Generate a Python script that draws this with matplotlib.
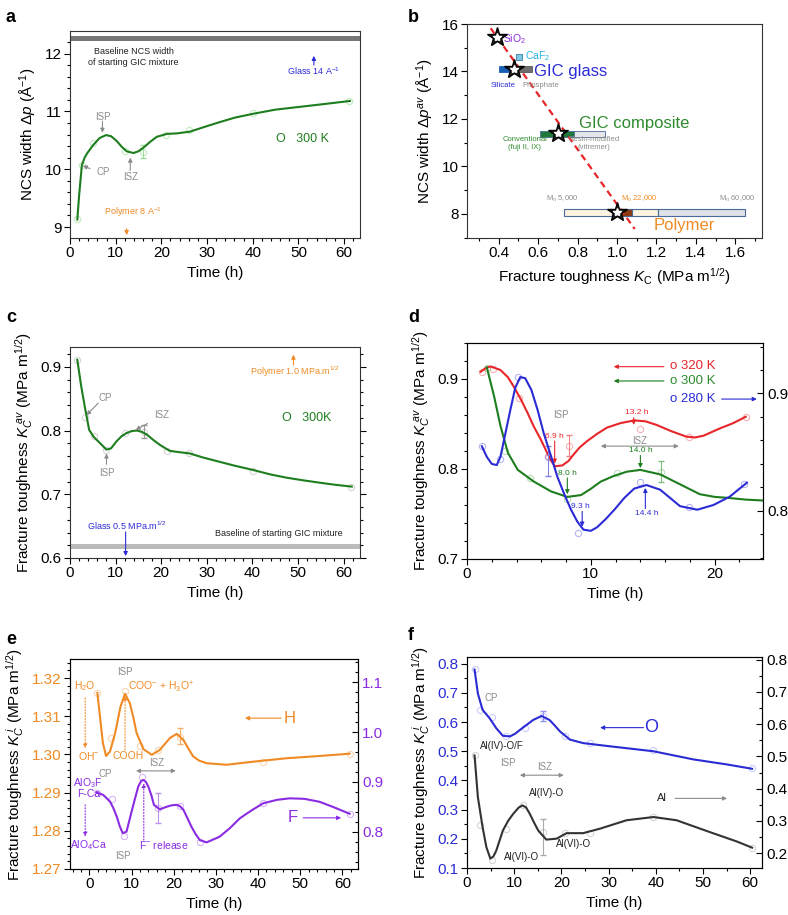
import matplotlib
matplotlib.use("Agg")
import matplotlib.pyplot as plt
from matplotlib.patches import Rectangle
from matplotlib.ticker import MultipleLocator

plt.rcParams['font.family'] = ['Liberation Sans', 'DejaVu Sans']
plt.rcParams['mathtext.fontset'] = 'custom'
plt.rcParams['mathtext.rm'] = 'Liberation Sans'
plt.rcParams['mathtext.it'] = 'Liberation Sans:italic'
plt.rcParams['mathtext.bf'] = 'Liberation Sans:bold'

# ---------------- data ----------------
# a: NCS width vs time
a_t = [1.5, 2.7, 5.0, 12.0, 16.0, 21.0, 26.0, 40.0, 61.0]
a_y = [9.13, 10.07, 10.45, 10.32, 10.30, 10.60, 10.67, 10.97, 11.18]
a_curve_t = [1.6, 2.0, 2.6, 3.2, 3.8, 5.1, 6.5, 7.9, 9.0, 10.2, 11.3, 12.4, 13.9, 15.0, 16.2, 17.5, 19.0, 21.2, 23.5, 26.3, 29.0, 32.2, 36.0, 40.2, 45.0, 50.5, 56.0, 61.3]
a_curve_y = [9.13, 9.55, 10.07, 10.20, 10.28, 10.42, 10.54, 10.59, 10.57, 10.49, 10.39, 10.31, 10.28, 10.31, 10.38, 10.47, 10.56, 10.61, 10.62, 10.65, 10.72, 10.80, 10.89, 10.96, 11.03, 11.08, 11.13, 11.18]

# b: NCS width vs fracture toughness
b_star_k = [0.39, 0.48, 0.70, 1.00]
b_star_p = [15.45, 14.10, 11.42, 8.07]
b_fit_k = [0.36, 1.09]
b_fit_p = [15.82, 7.36]

# c: average fracture toughness, 300 K
c_t = [1.5, 3.3, 5.3, 8.0, 12.1, 16.2, 21.2, 26.2, 40.2, 61.6]
c_y = [0.911, 0.821, 0.791, 0.769, 0.796, 0.797, 0.768, 0.764, 0.737, 0.711]
c_curve_t = [1.6, 2.4, 3.3, 4.2, 5.2, 6.6, 8.0, 9.0, 10.2, 11.3, 12.4, 13.5, 14.6, 15.7, 16.8, 18.3, 19.8, 21.9, 24.0, 26.3, 29.0, 32.2, 36.0, 40.2, 44.0, 47.5, 51.0, 54.9, 58.0, 61.8]
c_curve_y = [0.911, 0.872, 0.835, 0.801, 0.790, 0.780, 0.770, 0.772, 0.783, 0.791, 0.796, 0.799, 0.800, 0.798, 0.794, 0.785, 0.777, 0.768, 0.766, 0.764, 0.758, 0.752, 0.745, 0.738, 0.731, 0.726, 0.722, 0.718, 0.715, 0.712]

# d: three temperatures
d320_t = [1.2, 2.1, 4.2, 6.5, 8.2, 14.0, 17.9, 22.5]
d320_y = [0.908, 0.911, 0.879, 0.814, 0.826, 0.845, 0.836, 0.858]
d320_curve_t = [1.1, 1.5, 1.9, 2.7, 3.3, 3.8, 4.4, 4.9, 5.4, 5.95, 6.4, 6.8, 7.1, 7.7, 8.2, 8.6, 9.1, 9.7, 10.5, 11.3, 12.4, 13.5, 14.4, 15.3, 16.5, 17.7, 18.4, 19.1, 20.4, 21.5, 22.5]
d320_curve_y = [0.908, 0.912, 0.914, 0.910, 0.902, 0.891, 0.876, 0.862, 0.847, 0.833, 0.820, 0.809, 0.803, 0.804, 0.809, 0.816, 0.824, 0.831, 0.839, 0.846, 0.851, 0.854, 0.853, 0.849, 0.842, 0.836, 0.835, 0.837, 0.845, 0.851, 0.858]
d300_t = [1.6, 3.1, 5.1, 8.1, 12.1, 15.7]
d300_y = [0.912, 0.820, 0.790, 0.767, 0.796, 0.797]
d300_curve_t = [1.6, 2.2, 2.7, 3.3, 4.1, 5.4, 6.8, 8.1, 9.2, 10.0, 10.8, 11.8, 12.9, 14.0, 15.6, 17.2, 18.8, 20.0, 21.0, 22.5, 23.9]
d300_curve_y = [0.913, 0.880, 0.848, 0.818, 0.799, 0.786, 0.775, 0.769, 0.771, 0.778, 0.786, 0.792, 0.797, 0.799, 0.794, 0.783, 0.772, 0.769, 0.768, 0.766, 0.765]
d280_t = [1.2, 2.7, 4.1, 6.5, 9.0, 14.0, 17.9, 22.4]
d280_y = [0.855, 0.844, 0.914, 0.846, 0.781, 0.825, 0.803, 0.823]
d280_curve_t = [1.2, 1.6, 2.0, 2.4, 2.7, 3.1, 3.5, 3.9, 4.3, 4.7, 5.2, 5.7, 6.2, 6.8, 7.3, 7.9, 8.4, 8.9, 9.4, 10.0, 10.5, 11.2, 11.9, 12.7, 13.5, 14.5, 15.6, 16.4, 17.2, 18.6, 19.9, 21.2, 22.6]
d280_curve_y = [0.855, 0.846, 0.840, 0.839, 0.846, 0.866, 0.886, 0.905, 0.914, 0.913, 0.903, 0.886, 0.866, 0.846, 0.829, 0.813, 0.801, 0.791, 0.784, 0.783, 0.786, 0.793, 0.801, 0.811, 0.819, 0.822, 0.818, 0.811, 0.804, 0.801, 0.805, 0.812, 0.824]

# e: H (left axis) and F (right axis)
eh_t = [1.9, 5.1, 8.45, 12.0, 16.3, 21.5, 41.2, 61.9]
eh_y = [1.3162, 1.3043, 1.3165, 1.3023, 1.3012, 1.3047, 1.2979, 1.3002]
eh_curve_t = [1.9, 2.5, 3.2, 3.95, 4.9, 6.1, 7.4, 8.45, 9.6, 10.4, 11.2, 12.8, 14.8, 16.7, 19.1, 20.7, 22.3, 23.5, 24.6, 26.0, 27.8, 32.5, 38.8, 46.7, 54.6, 61.7]
eh_curve_y = [1.3161, 1.3100, 1.3030, 1.2996, 1.3008, 1.3056, 1.3126, 1.3159, 1.3134, 1.3098, 1.3056, 1.3014, 1.2999, 1.3012, 1.3043, 1.3054, 1.3038, 1.3015, 1.2995, 1.2984, 1.2977, 1.2973, 1.2981, 1.2990, 1.2996, 1.3002]
ef_t = [1.7, 5.3, 8.2, 12.4, 16.3, 21.5, 26.2, 41.2, 61.9]
ef_y = [0.8785, 0.865, 0.791, 0.909, 0.847, 0.852, 0.7785, 0.857, 0.8356]
ef_curve_t = [1.7, 3.3, 4.9, 5.7, 6.5, 7.2, 7.9, 8.8, 10.0, 10.8, 11.6, 12.3, 12.8, 13.4, 14.0, 14.7, 15.3, 16.7, 18.3, 19.5, 20.7, 21.5, 22.3, 23.2, 24.2, 25.2, 26.2, 27.8, 30.9, 33.3, 35.7, 38.5, 41.2, 44.5, 47.5, 51.0, 54.6, 58.0, 61.7]
ef_curve_y = [0.8785, 0.8738, 0.8604, 0.847, 0.830, 0.811, 0.797, 0.800, 0.840, 0.866, 0.891, 0.902, 0.904, 0.900, 0.890, 0.873, 0.854, 0.845, 0.850, 0.853, 0.854, 0.851, 0.844, 0.828, 0.810, 0.795, 0.783, 0.7785, 0.790, 0.807, 0.827, 0.843, 0.857, 0.864, 0.867, 0.866, 0.860, 0.849, 0.836]

# f: O (left axis) and Al (right axis)
fo_t = [1.6, 2.8, 5.2, 8.2, 12.2, 16.0, 20.7, 26.0, 39.5, 60.4]
fo_y = [0.783, 0.641, 0.617, 0.551, 0.579, 0.621, 0.551, 0.528, 0.503, 0.441]
fo_curve_t = [1.6, 2.3, 3.3, 4.8, 6.2, 7.6, 9.1, 10.2, 11.2, 12.6, 14.0, 15.8, 17.5, 18.6, 19.7, 21.8, 24.6, 30.3, 39.5, 48.0, 55.0, 60.4]
fo_curve_y = [0.780, 0.698, 0.642, 0.613, 0.579, 0.553, 0.551, 0.560, 0.573, 0.590, 0.607, 0.621, 0.607, 0.588, 0.568, 0.540, 0.528, 0.517, 0.500, 0.472, 0.455, 0.440]
fal_t = [1.6, 2.8, 5.2, 8.2, 11.9, 16.0, 20.7, 26.0, 39.5, 60.4]
fal_y = [0.503, 0.286, 0.180, 0.276, 0.348, 0.266, 0.262, 0.262, 0.312, 0.217]
fal_curve_t = [1.6, 2.3, 3.3, 4.1, 4.95, 5.6, 6.2, 7.6, 8.7, 9.8, 11.0, 11.75, 12.5, 13.3, 14.2, 15.1, 16.8, 19.0, 21.1, 24.6, 28.2, 33.8, 39.5, 44.4, 51.5, 57.2, 60.4]
fal_curve_y = [0.503, 0.374, 0.281, 0.219, 0.183, 0.190, 0.208, 0.270, 0.300, 0.322, 0.342, 0.348, 0.342, 0.322, 0.295, 0.270, 0.242, 0.245, 0.262, 0.262, 0.276, 0.302, 0.312, 0.302, 0.265, 0.236, 0.217]

GREEN = '#1e7d1e'
RED = '#e8262a'
BLUE = '#2b2bd6'
ORANGE = '#f08a24'
PURPLE = '#8a2be2'
GRAY = '#8c8c8c'
TS = 11   # tick label size
LS = 11   # axis label size

fig = plt.figure(figsize=(7.88, 9.15), dpi=100)


def px_ax(l, t, r, b):
    return fig.add_axes([l / 788, 1 - b / 915, (r - l) / 788, (b - t) / 915])


def style(ax, right_ticks=True):
    ax.tick_params(which='both', direction='out', labelsize=TS, width=0.8, pad=2)
    ax.tick_params(which='major', length=4)
    ax.tick_params(which='minor', length=2)
    ax.tick_params(axis='y', which='both', right=right_ticks)
    if right_ticks:
        ax.yaxis.set_tick_params(which='both', right=True)
    for s in ax.spines.values():
        s.set_linewidth(0.8)
        s.set_color('#333333')


def style_right(axr, color='black'):
    axr.tick_params(which='both', direction='in', labelsize=TS, width=0.8, pad=3, labelcolor=color)
    axr.tick_params(which='major', length=4)
    axr.tick_params(which='minor', length=2)


def arrow(ax, x0, y0, x1, y1, color, ls='-', lw=0.8, head='-|>'):
    ax.annotate('', xy=(x1, y1), xytext=(x0, y0),
                arrowprops=dict(arrowstyle=head, color=color, lw=lw, ls=ls,
                                mutation_scale=6, shrinkA=0, shrinkB=0))


def dots(ax, x, y, color):
    ax.plot(x, y, 'o', ms=4.5, mfc='none', mec=color, mew=0.8, alpha=0.35)


# ---------------- a ----------------
ax = px_ax(70, 31, 360, 238)
style(ax, right_ticks=False)
ax.set_xlim(0, 63.5)
ax.set_ylim(8.81, 12.39)
ax.axhspan(12.22, 12.30, color='#777777', lw=0)
dots(ax, a_t, a_y, '#52c452')
ax.errorbar([16.0], [10.30], yerr=[[0.1], [0.12]], fmt='none', ecolor='#9adf9a', lw=0.8, capsize=2)
ax.plot(a_curve_t, a_curve_y, color=GREEN, lw=1.5)
ax.xaxis.set_major_locator(MultipleLocator(10))
ax.xaxis.set_minor_locator(MultipleLocator(2))
ax.yaxis.set_major_locator(MultipleLocator(1))
ax.yaxis.set_minor_locator(MultipleLocator(0.2))
ax.set_xlabel('Time (h)', fontsize=LS)
ax.set_ylabel(r'NCS width $\Delta p$ (Å$^{-1}$)', fontsize=LS)
ax.text(13.9, 11.94, 'Baseline NCS width\nof starting GIC mixture', fontsize=6.5, ha='center', va='center', color='#222222')
ax.text(53.4, 11.69, r'Glass 14 A$^{-1}$', fontsize=6.5, ha='center', va='center', color=BLUE)
arrow(ax, 53.4, 11.8, 53.4, 11.96, BLUE)
ax.text(13.9, 9.26, r'Polymer 8 A$^{-1}$', fontsize=6.5, ha='center', va='center', color=ORANGE)
arrow(ax, 12.4, 8.97, 12.4, 8.86, ORANGE)
ax.text(7.1, 10.91, 'ISP', fontsize=7, ha='center', va='center', color=GRAY)
arrow(ax, 7.1, 10.83, 7.1, 10.63, GRAY)
ax.text(7.3, 9.96, 'CP', fontsize=7, ha='center', va='center', color=GRAY)
arrow(ax, 4.4, 10.01, 2.8, 10.06, GRAY)
ax.text(13.2, 9.87, 'ISZ', fontsize=7, ha='center', va='center', color=GRAY)
arrow(ax, 13.2, 9.98, 13.2, 10.2, GRAY)
ax.text(51, 10.52, 'O   300 K', fontsize=9, ha='center', va='center', color=GREEN)

# ---------------- b ----------------
ax = px_ax(467, 24, 762, 238)
style(ax)
ax.yaxis.set_tick_params(which='both', right=False)
ax.set_xlim(0.24, 1.735)
ax.set_ylim(6.98, 16)
ax.xaxis.set_major_locator(MultipleLocator(0.2))
ax.xaxis.set_minor_locator(MultipleLocator(0.1))
ax.yaxis.set_major_locator(MultipleLocator(2))
ax.yaxis.set_minor_locator(MultipleLocator(1))
ax.xaxis.set_major_formatter(plt.FormatStrFormatter('%.1f'))
# glass bars
ax.add_patch(Rectangle((0.40, 13.97), 0.08, 0.28, fc='#1a5fb4', ec='#1a5fb4', lw=0.6))
ax.add_patch(Rectangle((0.48, 13.97), 0.09, 0.28, fc='#6e6e6e', ec='#555555', lw=0.6))
ax.add_patch(Rectangle((0.49, 14.48), 0.03, 0.25, fc='#7ec8e3', ec='#3a7ca5', lw=0.6))
# composite bars
ax.add_patch(Rectangle((0.61, 11.23), 0.174, 0.26, fc='#1f7a3a', ec='#4a6a9a', lw=0.6))
ax.add_patch(Rectangle((0.784, 11.23), 0.155, 0.26, fc='#e6e6ea', ec='#4a6a9a', lw=0.6))
# polymer bars
ax.add_patch(Rectangle((0.73, 7.92), 0.243, 0.29, fc='#fbf3df', ec='#4a6a9a', lw=0.8))
ax.add_patch(Rectangle((0.973, 7.92), 0.101, 0.29, fc='#8b3a12', ec='#4a6a9a', lw=0.8))
ax.add_patch(Rectangle((1.074, 7.92), 0.132, 0.29, fc='#fbf3df', ec='#4a6a9a', lw=0.8))
ax.add_patch(Rectangle((1.206, 7.92), 0.443, 0.29, fc='#dfe2e8', ec='#4a6a9a', lw=0.8))
ax.plot(b_fit_k, b_fit_p, color='#e8262a', lw=1.6, ls=(0, (3, 2)))
ax.plot(b_star_k, b_star_p, '*', ms=15, mfc='#222222', mec='black', zorder=5)
ax.plot(b_star_k, b_star_p, '*', ms=6, mfc='white', mec='white', zorder=6)
ax.text(0.42, 15.38, r'SiO$_2$', fontsize=7.5, color=PURPLE, va='center')
ax.text(0.535, 14.65, r'CaF$_2$', fontsize=7.5, color='#2ab5e0', va='center')
ax.text(0.58, 14.0, 'GIC glass', fontsize=12, color=BLUE, va='center')
ax.text(0.425, 13.4, 'Silicate', fontsize=5.5, color=BLUE, ha='center', va='center')
ax.text(0.615, 13.4, 'Phosphate', fontsize=5.5, color=GRAY, ha='center', va='center')
ax.text(0.81, 11.81, 'GIC composite', fontsize=12, color='#2e8b2e', va='center')
ax.text(0.533, 10.95, 'Conventional\n(fuji II, IX)', fontsize=5.5, color='#2e8b2e', ha='center', va='center')
ax.text(0.885, 10.95, 'Resin-modified\n(vitremer)', fontsize=5.5, color=GRAY, ha='center', va='center')
ax.text(0.725, 8.62, r'M$_n$ 5,000', fontsize=5.5, color=GRAY, ha='center', va='center')
ax.text(1.113, 8.62, r'M$_n$ 22,000', fontsize=5.5, color=ORANGE, ha='center', va='center')
ax.text(1.61, 8.62, r'M$_n$ 60,000', fontsize=5.5, color=GRAY, ha='center', va='center')
ax.text(1.34, 7.5, 'Polymer', fontsize=12, color=ORANGE, ha='center', va='center')
ax.set_xlabel(r'Fracture toughness $K_{\rm C}$ (MPa m$^{1/2}$)', fontsize=LS)
ax.set_ylabel(r'NCS width $\Delta p^{av}$ (Å$^{-1}$)', fontsize=LS)

# ---------------- c ----------------
ax = px_ax(70, 347, 360, 558)
style(ax)
ax.tick_params(axis='y', which='both', right=True)
ax.set_xlim(0, 63.6)
ax.set_ylim(0.6, 0.931)
ax.axhspan(0.6135, 0.6225, color='#bbbbbb', lw=0)
ax.xaxis.set_major_locator(MultipleLocator(10))
ax.xaxis.set_minor_locator(MultipleLocator(2))
ax.yaxis.set_major_locator(MultipleLocator(0.1))
ax.yaxis.set_minor_locator(MultipleLocator(0.02))
dots(ax, c_t, c_y, '#888888')
ax.errorbar([16.2], [0.797], yerr=[[0.009], [0.011]], fmt='none', ecolor='#999999', lw=0.8, capsize=2)
ax.plot(c_curve_t, c_curve_y, color=GREEN, lw=1.5)
ax.text(7.7, 0.851, 'CP', fontsize=7, color=GRAY, ha='center', va='center')
arrow(ax, 6.2, 0.843, 3.6, 0.824, GRAY)
ax.text(20.1, 0.824, 'ISZ', fontsize=7, color=GRAY, ha='center', va='center')
arrow(ax, 17.0, 0.811, 14.4, 0.801, GRAY)
ax.text(8.0, 0.734, 'ISP', fontsize=7, color=GRAY, ha='center', va='center')
arrow(ax, 8.0, 0.747, 8.0, 0.764, GRAY)
ax.text(52, 0.82, 'O   300K', fontsize=9, color=GREEN, ha='center', va='center')
ax.text(49.4, 0.892, r'Polymer 1.0 MPa.m$^{1/2}$', fontsize=6.5, color=ORANGE, ha='center', va='center')
arrow(ax, 49.0, 0.903, 49.0, 0.919, ORANGE)
ax.text(12.4, 0.651, r'Glass 0.5 MPa.m$^{1/2}$', fontsize=6.5, color=BLUE, ha='center', va='center')
arrow(ax, 12.2, 0.641, 12.2, 0.603, BLUE)
ax.text(45.7, 0.638, 'Baseline of starting GIC mixture', fontsize=6.5, color='#222222', ha='center', va='center')
ax.set_xlabel('Time (h)', fontsize=LS)
ax.set_ylabel(r'Fracture toughness $K_C^{\ av}$ (MPa m$^{1/2}$)', fontsize=LS)

# ---------------- d ----------------
ax = px_ax(467, 343, 763, 559)
style(ax, right_ticks=False)
ax.set_xlim(0, 23.9)
ax.set_ylim(0.7, 0.940)
ax.xaxis.set_major_locator(MultipleLocator(10))
ax.xaxis.set_minor_locator(MultipleLocator(2))
ax.yaxis.set_major_locator(MultipleLocator(0.1))
ax.yaxis.set_minor_locator(MultipleLocator(0.02))
axr = ax.twinx()
axr.set_ylim(0.759, 0.943)
axr.yaxis.set_major_locator(MultipleLocator(0.1))
axr.yaxis.set_minor_locator(MultipleLocator(0.02))
style_right(axr)
axr.yaxis.set_major_formatter(plt.FormatStrFormatter('%.1f'))
dots(ax, d320_t, d320_y, RED)
dots(ax, d300_t, d300_y, '#3aa53a')
dots(axr, d280_t, d280_y, BLUE)
ax.errorbar([8.2], [0.826], yerr=[[0.011], [0.012]], fmt='none', ecolor='#f08080', lw=0.8, capsize=2)
ax.errorbar([15.7], [0.797], yerr=[[0.011], [0.012]], fmt='none', ecolor='#80c080', lw=0.8, capsize=2)
axr.errorbar([6.5], [0.846], yerr=[[0.016], [0.009]], fmt='none', ecolor='#8080e0', lw=0.8, capsize=2)
ax.plot(d320_curve_t, d320_curve_y, color=RED, lw=1.5)
ax.plot(d300_curve_t, d300_curve_y, color=GREEN, lw=1.5)
axr.plot(d280_curve_t, d280_curve_y, color=BLUE, lw=1.5)
arrow(ax, 15.9, 0.9137, 11.85, 0.9137, RED)
ax.text(16.4, 0.914, 'o 320 K', fontsize=9.5, color=RED, va='center')
arrow(ax, 15.9, 0.8978, 11.85, 0.8978, GREEN)
ax.text(16.4, 0.898, 'o 300 K', fontsize=9.5, color='#2e8b2e', va='center')
ax.text(16.4, 0.8777, 'o 280 K', fontsize=9.5, color=BLUE, va='center')
arrow(ax, 20.56, 0.8777, 23.4, 0.8777, BLUE)
ax.text(7.56, 0.860, 'ISP', fontsize=7, color=GRAY, ha='center', va='center')
ax.text(13.7, 0.8625, '13.2 h', fontsize=6, color=RED, ha='center', va='center')
arrow(ax, 13.46, 0.857, 13.46, 0.849, RED)
ax.text(7.08, 0.836, '6.9 h', fontsize=6, color=RED, ha='center', va='center')
arrow(ax, 7.08, 0.831, 7.08, 0.806, RED)
ax.text(13.9, 0.831, 'ISZ', fontsize=7, color=GRAY, ha='center', va='center')
arrow(ax, 10.8, 0.8254, 17.1, 0.8254, GRAY, head='<|-|>')
ax.text(14.0, 0.820, '14.0 h', fontsize=6, color=GREEN, ha='center', va='center')
arrow(ax, 14.0, 0.815, 14.0, 0.801, GREEN)
ax.text(8.1, 0.795, '8.0 h', fontsize=6, color=GREEN, ha='center', va='center')
arrow(ax, 8.1, 0.790, 8.1, 0.772, GREEN)
ax.text(9.17, 0.758, '9.3 h', fontsize=6, color=BLUE, ha='center', va='center')
arrow(ax, 9.3, 0.753, 9.3, 0.736, BLUE)
ax.text(14.5, 0.7505, '14.4 h', fontsize=6, color=BLUE, ha='center', va='center')
arrow(ax, 14.4, 0.756, 14.4, 0.779, BLUE)
ax.set_xlabel('Time (h)', fontsize=LS)
ax.set_ylabel(r'Fracture toughness $K_C^{\ av}$ (MPa m$^{1/2}$)', fontsize=LS)

# ---------------- e ----------------
ax = px_ax(70, 659, 358, 869)
style(ax, right_ticks=False)
ax.set_xlim(-4.6, 63.7)
ax.set_ylim(1.27, 1.325)
ax.xaxis.set_major_locator(MultipleLocator(10))
ax.xaxis.set_minor_locator(MultipleLocator(2))
ax.yaxis.set_major_locator(MultipleLocator(0.01))
ax.yaxis.set_minor_locator(MultipleLocator(0.002))
ax.yaxis.set_major_formatter(plt.FormatStrFormatter('%.2f'))
ax.tick_params(axis='y', labelcolor=ORANGE)
axr = ax.twinx()
axr.set_ylim(0.725, 1.147)
axr.yaxis.set_major_locator(MultipleLocator(0.1))
axr.yaxis.set_minor_locator(MultipleLocator(0.02))
axr.yaxis.set_major_formatter(plt.FormatStrFormatter('%.1f'))
style_right(axr, PURPLE)
dots(ax, eh_t, eh_y, ORANGE)
dots(axr, ef_t, ef_y, PURPLE)
ax.errorbar([21.5], [1.3047], yerr=[[0.002], [0.0021]], fmt='none', ecolor='#f5b070', lw=0.8, capsize=2)
axr.errorbar([16.3], [0.847], yerr=[[0.03], [0.03]], fmt='none', ecolor='#c090f0', lw=0.8, capsize=2)
ax.plot(eh_curve_t, eh_curve_y, color=ORANGE, lw=1.5)
axr.plot(ef_curve_t, ef_curve_y, color=PURPLE, lw=1.5)
ax.text(-1.0, 1.3178, r'H$_2$O', fontsize=7.5, color=ORANGE, ha='center', va='center')
arrow(ax, -1.0, 1.3148, -1.0, 1.3016, ORANGE, ls=':')
ax.text(-0.24, 1.2995, r'OH$^{-}$', fontsize=7.5, color=ORANGE, ha='center', va='center')
ax.text(8.45, 1.3217, 'ISP', fontsize=7, color=GRAY, ha='center', va='center')
ax.text(9.2, 1.3176, r'COO$^{-}$ + H$_3$O$^{+}$', fontsize=7.5, color=ORANGE, va='center')
ax.text(9.2, 1.2995, 'COOH', fontsize=7.5, color=ORANGE, ha='center', va='center')
arrow(ax, 8.45, 1.3012, 8.45, 1.3154, ORANGE, ls=':')
ax.text(47.5, 1.3095, 'H', fontsize=12, color=ORANGE, ha='center', va='center')
arrow(ax, 45.5, 1.3095, 36.9, 1.3095, ORANGE)
ax.text(16.0, 1.2977, 'ISZ', fontsize=7, color=GRAY, ha='center', va='center')
arrow(ax, 11.05, 1.2957, 20.5, 1.2957, GRAY, head='<|-|>')
ax.text(3.8, 1.2950, 'CP', fontsize=7, color=GRAY, ha='center', va='center')
ax.text(-4.0, 1.2926, r'AlO$_3$F', fontsize=7.5, color=PURPLE, ha='left', va='center')
ax.text(-0.24, 1.2896, 'F-Ca', fontsize=7.5, color=PURPLE, ha='center', va='center')
arrow(ax, -1.0, 1.2868, -1.0, 1.2785, PURPLE, ls=':')
ax.text(-0.24, 1.2763, r'AlO$_4$Ca', fontsize=7.5, color=PURPLE, ha='center', va='center')
ax.text(8.05, 1.2734, 'ISP', fontsize=7, color=GRAY, ha='center', va='center')
ax.text(11.8, 1.2763, r'F$^{-}$ release', fontsize=7.5, color=PURPLE, va='center')
arrow(ax, 12.9, 1.2776, 12.9, 1.2925, PURPLE, ls=':')
ax.text(48.3, 1.2834, 'F', fontsize=12, color=PURPLE, ha='center', va='center')
arrow(ax, 50.7, 1.2834, 59.7, 1.2834, PURPLE)
ax.set_xlabel('Time (h)', fontsize=LS)
ax.set_ylabel(r'Fracture toughness $K_C^{\ i}$ (MPa m$^{1/2}$)', fontsize=LS)

# ---------------- f ----------------
ax = px_ax(467, 657, 762, 868)
style(ax, right_ticks=False)
ax.set_xlim(0, 62.5)
ax.set_ylim(0.1, 0.823)
ax.xaxis.set_major_locator(MultipleLocator(10))
ax.xaxis.set_minor_locator(MultipleLocator(5))
ax.yaxis.set_major_locator(MultipleLocator(0.1))
ax.yaxis.set_minor_locator(MultipleLocator(0.05))
ax.yaxis.set_major_formatter(plt.FormatStrFormatter('%.1f'))
ax.tick_params(axis='y', labelcolor=BLUE)
axr = ax.twinx()
axr.set_ylim(0.154, 0.808)
axr.yaxis.set_major_locator(MultipleLocator(0.1))
axr.yaxis.set_minor_locator(MultipleLocator(0.05))
axr.yaxis.set_major_formatter(plt.FormatStrFormatter('%.1f'))
style_right(axr)
dots(ax, fo_t, fo_y, '#7070f0')
dots(axr, fal_t, fal_y, '#888888')
ax.errorbar([16.0], [0.621], yerr=[[0.016], [0.016]], fmt='none', ecolor='#9090f0', lw=0.8, capsize=2)
axr.errorbar([16.0], [0.25], yerr=[[0.055], [0.055]], fmt='none', ecolor='#aaaaaa', lw=0.8, capsize=2)
ax.plot(fo_curve_t, fo_curve_y, color=BLUE, lw=1.5)
axr.plot(fal_curve_t, fal_curve_y, color='#333333', lw=1.5)
ax.text(5.2, 0.681, 'CP', fontsize=7, color=GRAY, ha='center', va='center')
ax.text(7.3, 0.517, 'Al(IV)-O/F', fontsize=7, color='#222222', ha='center', va='center')
ax.text(8.7, 0.460, 'ISP', fontsize=7, color=GRAY, ha='center', va='center')
ax.text(16.5, 0.447, 'ISZ', fontsize=7, color=GRAY, ha='center', va='center')
arrow(ax, 11.2, 0.418, 20.5, 0.418, GRAY, head='<|-|>')
ax.text(16.8, 0.358, 'Al(IV)-O', fontsize=7, color='#222222', ha='center', va='center')
ax.text(11.5, 0.137, 'Al(VI)-O', fontsize=7, color='#222222', ha='center', va='center')
ax.text(22.5, 0.183, 'Al(VI)-O', fontsize=7, color='#222222', ha='center', va='center')
ax.text(39.1, 0.581, 'O', fontsize=13, color=BLUE, ha='center', va='center')
arrow(ax, 37.4, 0.581, 28.2, 0.581, BLUE)
ax.text(41.3, 0.3385, 'Al', fontsize=8, color='#222222', ha='center', va='center')
arrow(ax, 44.1, 0.3385, 55.1, 0.3385, GRAY)
ax.set_xlabel('Time (h)', fontsize=LS)
ax.set_ylabel(r'Fracture toughness $K_C^{\ i}$ (MPa m$^{1/2}$)', fontsize=LS)

# panel letters
for lbl, x, y in [('a', 6, 18), ('b', 408, 18), ('c', 6, 318), ('d', 408, 318), ('e', 6, 640), ('f', 408, 636)]:
    fig.text(x / 788, 1 - y / 915, lbl, fontsize=13, fontweight='bold', va='center')

fig.savefig('out.png', dpi=100)
